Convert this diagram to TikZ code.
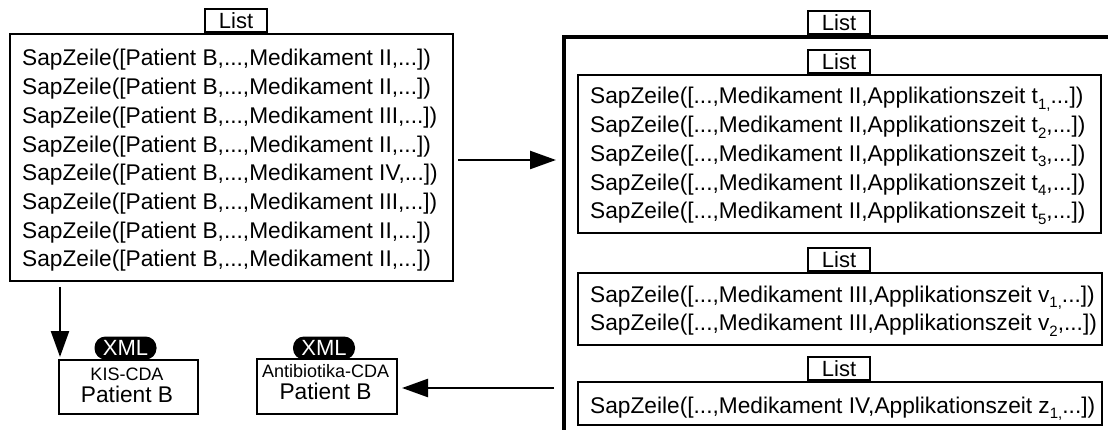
\documentclass[tikz,border=0pt]{standalone}
\usepackage{fontspec}
\setmainfont{Liberation Sans}
\usetikzlibrary{arrows.meta}
\newcommand\lowix[1]{\raisebox{-0.24em}{\fontsize{15}{15}\selectfont #1}}
\begin{document}
\begin{tikzpicture}[x=1pt,y=-1pt,
  box/.style={draw, line width=2pt, inner sep=0pt, anchor=north west},
  outerbox/.style={draw, line width=4pt, inner sep=0pt, anchor=north west},
  tag/.style={draw, line width=2pt, fill=white, inner sep=0pt, minimum height=23pt, minimum width=62pt, font=\fontsize{22}{22}\selectfont, anchor=south},
  row/.style={anchor=base west, inner sep=0pt, font=\fontsize{22.7}{22.7}\selectfont},
  small/.style={anchor=base, inner sep=0pt, font=\fontsize{18}{18}\selectfont},
  big/.style={anchor=base, inner sep=0pt, font=\fontsize{22.7}{22.7}\selectfont},
  pill/.style={fill=black, text=white, rounded corners=11pt, inner sep=0pt, minimum width=62pt, minimum height=23pt, font=\fontsize{22}{22}\selectfont},
  arr/.style={line width=2.4pt, -{Triangle[length=26pt,width=18pt]}}
]
\clip (0,0) rectangle (1108,430);
% left list
\node[box, minimum width=443pt, minimum height=247pt] (L) at (9,33) {};
\node[tag] (Lt) at (236,33) {List};
\node[row] (l1) at (22,66) {SapZeile([Patient B,...,Medikament II,...])};
\node[row] (l2) at (22,94.7) {SapZeile([Patient B,...,Medikament II,...])};
\node[row] (l3) at (22,123.4) {SapZeile([Patient B,...,Medikament III,...])};
\node[row] (l4) at (22,152.1) {SapZeile([Patient B,...,Medikament II,...])};
\node[row] (l5) at (22,180.8) {SapZeile([Patient B,...,Medikament IV,...])};
\node[row] (l6) at (22,209.5) {SapZeile([Patient B,...,Medikament III,...])};
\node[row] (l7) at (22,238.2) {SapZeile([Patient B,...,Medikament II,...])};
\node[row] (l8) at (22,266.9) {SapZeile([Patient B,...,Medikament II,...])};
% right outer list
\node[outerbox, minimum width=560pt, minimum height=420pt] (O) at (562,35) {};
\node[tag] (Ot) at (839,35) {List};
% inner list 1
\node[box, minimum width=523pt, minimum height=158pt] (B1) at (577,74) {};
\node[tag] (B1t) at (839,74) {List};
\node[row] (t1) at (590,104) {SapZeile([...,Medikament II,Applikationszeit t\lowix{1,}...])};
\node[row] (t2) at (590,132.7) {SapZeile([...,Medikament II,Applikationszeit t\lowix{2},...])};
\node[row] (t3) at (590,161.4) {SapZeile([...,Medikament II,Applikationszeit t\lowix{3},...])};
\node[row] (t4) at (590,190.1) {SapZeile([...,Medikament II,Applikationszeit t\lowix{4},...])};
\node[row] (t5) at (590,218.8) {SapZeile([...,Medikament II,Applikationszeit t\lowix{5},...])};
% inner list 2
\node[box, minimum width=524pt, minimum height=72pt] (B2) at (577,272) {};
\node[tag] (B2t) at (839,272) {List};
\node[row] (v1) at (590,302) {SapZeile([...,Medikament III,Applikationszeit v\lowix{1,}...])};
\node[row] (v2) at (590,330.7) {SapZeile([...,Medikament III,Applikationszeit v\lowix{2},...])};
% inner list 3
\node[box, minimum width=524pt, minimum height=43pt] (B3) at (577,381) {};
\node[tag] (B3t) at (839,381) {List};
\node[row] (z1) at (590,413) {SapZeile([...,Medikament IV,Applikationszeit z\lowix{1,}...])};
% CDA boxes
\node[box, minimum width=139pt, minimum height=54pt] (K) at (57.6,359) {};
\node[small] (Kt) at (127,380) {KIS-CDA};
\node[big] (Kp) at (127,402) {Patient B};
\node[pill] (X1) at (125.5,348) {XML};
\node[box, minimum width=140pt, minimum height=55pt] (A) at (255.5,358) {};
\node[small] (At) at (325.6,377) {Antibiotika-CDA};
\node[big] (Ap) at (325.6,399) {Patient B};
\node[pill] (X2) at (324,348) {XML};
% connectors
\draw[arr] ([xshift=4pt,yshift=-2.5pt]L.east) -- ([xshift=-6pt,yshift=-2.5pt]O.west |- L.east);
\draw[arr] ([xshift=51pt,yshift=-5pt]L.south west) -- ([xshift=2.4pt,yshift=2pt]K.north west);
\draw[arr] ([xshift=-8pt,yshift=-1.5pt]O.west |- A.east) -- ([xshift=4.5pt,yshift=-1.5pt]A.east);
\end{tikzpicture}
\end{document}
